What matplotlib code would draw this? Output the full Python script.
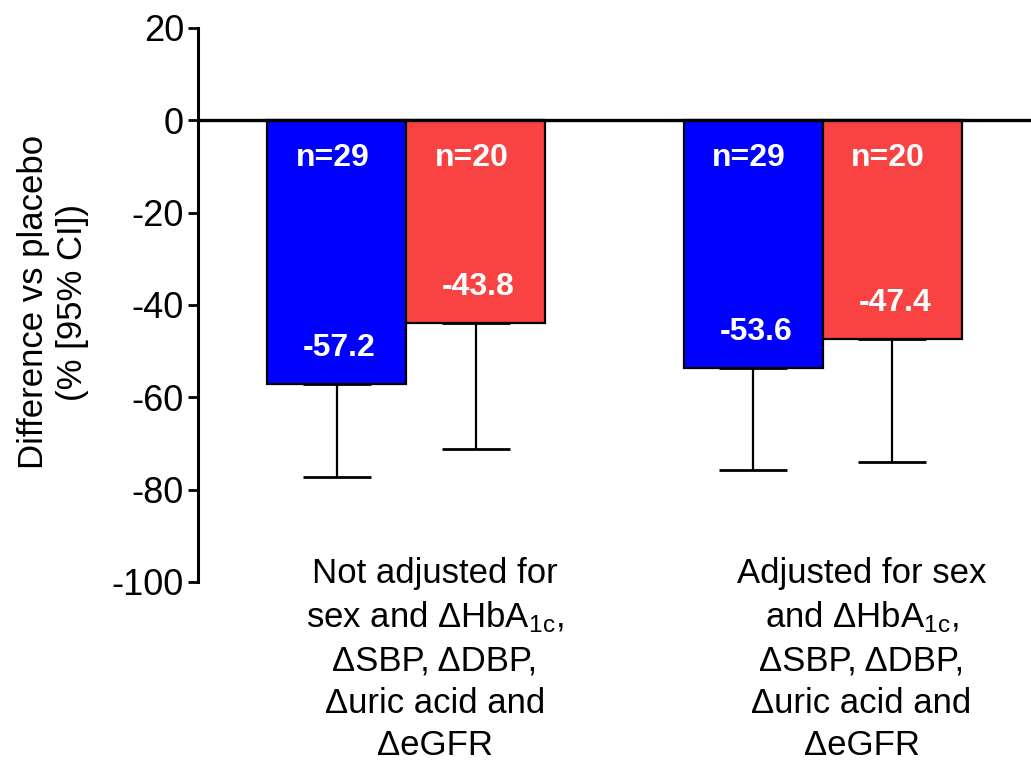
import matplotlib
matplotlib.use("Agg")
import matplotlib.pyplot as plt

plt.rcParams["font.family"] = ["Liberation Sans", "DejaVu Sans"]
plt.rcParams["mathtext.fontset"] = "custom"
plt.rcParams["mathtext.rm"] = "Liberation Sans"
plt.rcParams["mathtext.it"] = "Liberation Sans"
plt.rcParams["axes.unicode_minus"] = False

# values
group_centers = [1.5, 4.5]
blue_values = [-57.2, -53.6]
red_values = [-43.8, -47.4]
blue_lower = [-77.3, -75.8]
red_lower = [-71.2, -74.0]
blue_n = ["n=29", "n=29"]
red_n = ["n=20", "n=20"]
group_labels = [
    "Not adjusted for\nsex and ΔHbA$_{\\mathrm{1c}}$,\nΔSBP, ΔDBP,\nΔuric acid and\nΔeGFR",
    "Adjusted for sex\nand ΔHbA$_{\\mathrm{1c}}$,\nΔSBP, ΔDBP,\nΔuric acid and\nΔeGFR",
]
label_x = [1.705, 4.78]
yticks = [-100, -80, -60, -40, -20, 0, 20]

BLUE = "#0000FF"
RED = "#F94343"

fig = plt.figure(figsize=(10.31, 7.68), dpi=100)
ax = fig.add_axes([198 / 1031, 1 - 582 / 768, 1 - 198 / 1031, (582 - 28) / 768])

width = 1.0
blue_x = [c - width / 2 for c in group_centers]
red_x = [c + width / 2 for c in group_centers]

ax.bar(blue_x, blue_values, width=width, color=BLUE, edgecolor="black", linewidth=1.6, zorder=2)
ax.bar(red_x, red_values, width=width, color=RED, edgecolor="black", linewidth=1.6, zorder=2)

# only the lower half of the 95% CI is drawn
for xs, vals, lows in [(blue_x, blue_values, blue_lower), (red_x, red_values, red_lower)]:
    err = [[v - lo for v, lo in zip(vals, lows)], [0] * len(vals)]
    ax.errorbar(xs, vals, yerr=err, fmt="none", ecolor="black", elinewidth=1.6,
                capsize=24.8, capthick=2.0, zorder=1)

ax.axhline(0, color="black", linewidth=2.4, zorder=3)

for xs, vals, ns in [(blue_x, blue_values, blue_n), (red_x, red_values, red_n)]:
    for x, v, n in zip(xs, vals, ns):
        ax.text(x - 0.03, -8.2, n, color="white", fontsize=23, fontweight="bold",
                ha="center", va="center", zorder=4)
        ax.text(x + 0.02, v + 7.8, f"{v:.1f}", color="white", fontsize=23, fontweight="bold",
                ha="center", va="center", zorder=4)

for x, lab in zip(label_x, group_labels):
    ax.text(x, -94.5, lab, fontsize=25, ha="center", va="top", linespacing=1.36,
            clip_on=False)

ax.set_xlim(0, 6)
ax.set_ylim(-100, 20)
ax.set_yticks(yticks)
ax.set_yticklabels([str(t) for t in yticks], fontsize=26)
ax.tick_params(axis="y", length=7, width=2, pad=3)
ax.set_xticks([])
for s in ["top", "right", "bottom"]:
    ax.spines[s].set_visible(False)
ax.spines["left"].set_linewidth(2.2)

fig.text(53 / 1031, 1 - 302 / 768, "Difference vs placebo\n(% [95% CI])", rotation=90,
         fontsize=25, ha="center", va="center", multialignment="center", linespacing=1.2)

fig.savefig("out.png", dpi=100)
